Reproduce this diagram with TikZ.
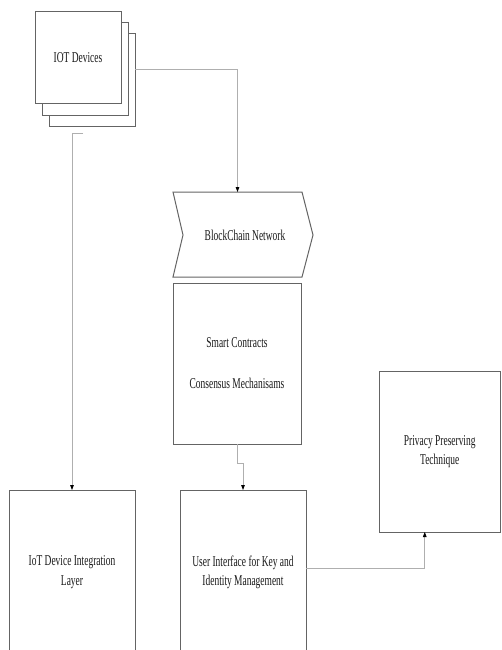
\documentclass[tikz,border=0pt]{standalone}
\usepackage{fontspec}
\setmainfont[FakeStretch=0.63]{Liberation Serif}
\usetikzlibrary{arrows.meta}
\definecolor{boxgray}{RGB}{100,100,100}
\definecolor{conngray}{RGB}{175,175,175}
\begin{document}
\begin{tikzpicture}[x=1pt,y=-1pt,
  box/.style={draw=boxgray,line width=1pt,fill=white,inner sep=0pt,outer sep=0pt,anchor=north west,
    align=center,font=\fontsize{15}{19.5}\selectfont,text=black!90},
  lbl/.style={align=center,font=\fontsize{15}{19.5}\selectfont,text=black!90,inner sep=0pt},
  conn/.style={draw=conngray,line width=0.8pt,-{Triangle[length=5pt,width=3.6pt,color=black]}}]
\useasboundingbox (0,0) rectangle (502,650);
\clip (0,0) rectangle (502,650);
\fill[white] (0,0) rectangle (502,650);

% IoT device stack
\node[box,minimum width=86pt,minimum height=93pt] (dev3) at (49,34) {};
\node[box,minimum width=86pt,minimum height=93pt] (dev2) at (42,23) {};
\node[box,minimum width=86pt,minimum height=92pt] (dev1) at (35,12) {IOT Devices};

% BlockChain network (chevron)
\node[minimum width=129pt,minimum height=85pt,inner sep=0pt,outer sep=0pt,anchor=north west] (bc) at (173,192) {};
\draw[draw=boxgray,line width=1pt] (173,192) -- (302,192) -- (313,235) -- (302,277) -- (173,277) -- (183,235) -- cycle;
\node[lbl] (bctext) at (245,235) {BlockChain Network};

% Smart contracts
\node[box,minimum width=128pt,minimum height=161pt] (sc) at (173,283) {Smart Contracts\\[21.5pt]Consensus Mechanisams};

% Bottom boxes
\node[box,minimum width=126pt,minimum height=164pt] (iot) at (9,490) {IoT Device Integration\\Layer};
\node[box,minimum width=126pt,minimum height=165pt] (ui) at (180,490) {User Interface for Key and\\Identity Management};
\node[box,minimum width=121.5pt,minimum height=161pt] (pp) at (379,371) {Privacy Preserving\\Technique};

% connectors
\coordinate (c1) at (83,133);
\coordinate (c2) at (72,133);
\draw[conn] (c1) -- (c2) -- (iot.north);
\draw[conn] ([yshift=-35pt]dev3.north east) -| (bc.north);
\draw[conn] (sc.south) -- ++(0,19) -| (ui.north);
\draw[conn] ([yshift=4pt]ui.east) -| ([xshift=-15pt]pp.south);
\end{tikzpicture}
\end{document}
